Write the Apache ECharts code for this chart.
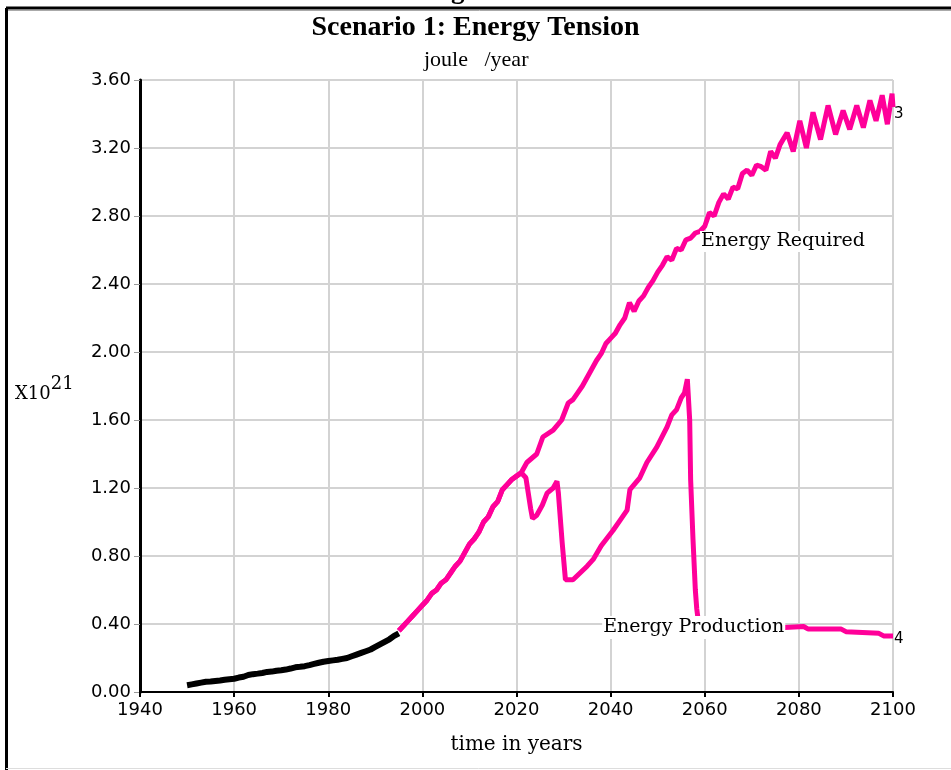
<!DOCTYPE html>
<html><head><meta charset="utf-8">
<script src="https://cdn.jsdelivr.net/npm/echarts@6/dist/echarts.min.js"></script>
<style>html,body{margin:0;padding:0;background:#fff}#c{width:951px;height:770px}</style>
</head><body><div id="c"></div>
<script>
// ---- data ----
const xTickValues = [1940, 1960, 1980, 2000, 2020, 2040, 2060, 2080, 2100];
const yTickValues = [0, 0.4, 0.8, 1.2, 1.6, 2.0, 2.4, 2.8, 3.2, 3.6];

const historyYears = [1950,1951,1952,1953,1954,1955,1956,1957,1958,1959,1960,1961,1962,1963,1964,1965,1966,1967,1968,1969,1970,1971,1972,1973,1974,1975,1976,1977,1978,1979,1980,1981,1982,1983,1984,1985,1986,1987,1988,1989,1990,1991,1992,1993,1994,1995];
const historyValues = [0.04,0.045,0.05,0.055,0.06,0.062,0.065,0.068,0.072,0.075,0.078,0.085,0.09,0.10,0.105,0.108,0.112,0.118,0.12,0.125,0.128,0.132,0.138,0.145,0.148,0.152,0.158,0.165,0.172,0.178,0.182,0.186,0.19,0.195,0.20,0.21,0.22,0.23,0.24,0.25,0.265,0.28,0.295,0.31,0.33,0.345];

const requiredYears = [1995,1996,1997,1998,1999,2000,2001,2002,2003,2004,2005,2006,2007,2008,2009,2010,2011,2012,2013,2014,2015,2016,2017,2018,2019,2020,2021,2022.2,2024.3,2025.6,2027.8,2029.6,2031,2032,2033,2034,2035,2036,2037,2038,2039,2040,2041,2042,2043,2044,2045,2046,2047,2048,2049,2050,2051,2052,2053,2054,2055,2056,2057,2058,2059,2060,2061,2062,2063,2064,2065,2066,2067,2068,2069,2070,2071,2072,2073,2074,2075,2076,2077.5,2078.8,2080.2,2081.6,2083,2084.6,2086.2,2087.8,2089.4,2090.8,2092.3,2093.7,2095.1,2096.4,2097.7,2098.8,2099.8,2100];
const requiredValues = [0.36,0.39,0.42,0.45,0.48,0.51,0.54,0.58,0.60,0.64,0.66,0.70,0.74,0.77,0.82,0.87,0.90,0.94,1.00,1.03,1.09,1.12,1.19,1.22,1.25,1.27,1.29,1.35,1.40,1.50,1.54,1.60,1.70,1.72,1.76,1.80,1.85,1.90,1.95,1.99,2.05,2.08,2.11,2.16,2.20,2.29,2.24,2.30,2.33,2.38,2.42,2.47,2.51,2.56,2.54,2.61,2.60,2.66,2.67,2.70,2.71,2.74,2.82,2.80,2.88,2.93,2.90,2.97,2.96,3.05,3.07,3.04,3.10,3.09,3.07,3.18,3.14,3.22,3.29,3.18,3.36,3.20,3.41,3.25,3.45,3.28,3.42,3.31,3.45,3.32,3.48,3.36,3.51,3.34,3.52,3.44];

const productionYears = [1995,1996,1997,1998,1999,2000,2001,2002,2003,2004,2005,2006,2007,2008,2009,2010,2011,2012,2013,2014,2015,2016,2017,2018,2019,2020,2021,2022,2023,2023.4,2024.3,2025.5,2026.5,2027.8,2028.6,2028.9,2029.7,2030.4,2032,2033.5,2035,2036.3,2038,2040.5,2042,2043.5,2044.1,2046.2,2047.7,2049.8,2052,2053,2054,2055,2055.7,2056.3,2056.8,2057,2057.5,2058,2058.3,2058.8,2070,2077,2081,2082,2089,2090,2097,2098,2100];
const productionValues = [0.36,0.39,0.42,0.45,0.48,0.51,0.54,0.58,0.60,0.64,0.66,0.70,0.74,0.77,0.82,0.87,0.90,0.94,1.00,1.03,1.09,1.12,1.19,1.22,1.25,1.27,1.29,1.26,1.08,1.02,1.04,1.10,1.17,1.20,1.24,1.17,0.88,0.66,0.66,0.70,0.74,0.78,0.86,0.95,1.01,1.07,1.19,1.26,1.35,1.44,1.56,1.63,1.66,1.73,1.76,1.84,1.60,1.25,0.90,0.60,0.49,0.38,0.38,0.38,0.385,0.37,0.37,0.355,0.345,0.33,0.33];

const titleText = 'Scenario 1: Energy Tension';
const unitText = 'joule   /year';
const xAxisName = 'time in years';
const requiredLabel = 'Energy Required';
const productionLabel = 'Energy Production';

// ---- build ----
const zip = (xs, ys) => xs.map((x, i) => [x, ys[i]]);
const PINK = '#ff0099';
const chart = echarts.init(document.getElementById('c'), null, {renderer: 'canvas'});
const serif = '"DejaVu Serif", serif';
const sans = '"DejaVu Sans", sans-serif';

chart.setOption({
  animation: false,
  backgroundColor: '#fff',
  grid: {left: 140, right: 58, top: 80, bottom: 78, containLabel: false},
  xAxis: {
    type: 'value', min: xTickValues[0], max: xTickValues[xTickValues.length - 1], interval: 20,
    name: xAxisName, nameLocation: 'middle', nameGap: 43,
    nameTextStyle: {fontFamily: serif, fontSize: 20, color: '#000'},
    axisLine: {show: true, onZero: false, lineStyle: {color: '#000', width: 2}},
    axisTick: {show: true, length: 5, lineStyle: {color: '#000', width: 2}},
    axisLabel: {margin: 9, fontFamily: sans, fontSize: 18, color: '#000', formatter: v => String(v)},
    splitLine: {show: true, lineStyle: {color: '#d3d3d3', width: 2}}
  },
  yAxis: {
    type: 'value', min: yTickValues[0], max: yTickValues[yTickValues.length - 1], interval: 0.4,
    axisLine: {show: true, onZero: false, lineStyle: {color: '#000', width: 3}},
    axisTick: {show: true, length: 6, lineStyle: {color: '#999', width: 1}},
    axisLabel: {margin: 9, fontFamily: sans, fontSize: 18, color: '#000', formatter: v => v.toFixed(2)},
    splitLine: {show: true, lineStyle: {color: '#d3d3d3', width: 2}}
  },
  series: [
    {name: 'Energy Required', type: 'line', data: zip(requiredYears, requiredValues), showSymbol: false,
      lineStyle: {color: PINK, width: 5}, z: 3},
    {name: 'Energy Production', type: 'line', data: zip(productionYears, productionValues), showSymbol: false,
      lineStyle: {color: PINK, width: 5}, z: 4},
    {name: 'History', type: 'line', data: zip(historyYears, historyValues), showSymbol: false,
      lineStyle: {color: '#000', width: 6}, z: 5}
  ]
});

const px = (x, y) => chart.convertToPixel({gridIndex: 0}, [x, y]);
const reqEnd = px(requiredYears[requiredYears.length - 1], requiredValues[requiredValues.length - 1]);
const prodEnd = px(productionYears[productionYears.length - 1], productionValues[productionValues.length - 1]);
const reqLab = px(2059.0, 2.65);
const prodLab = px(2038.2, 0.38);

chart.setOption({
  graphic: [
    {type: 'line', shape: {x1: 6, y1: 8, x2: 951, y2: 8}, style: {stroke: '#000', lineWidth: 3}, z: 100},
    {type: 'line', shape: {x1: 8, y1: 10.5, x2: 951, y2: 10.5}, style: {stroke: '#aaa', lineWidth: 1}, z: 100},
    {type: 'line', shape: {x1: 6.5, y1: 8, x2: 6.5, y2: 770}, style: {stroke: '#000', lineWidth: 3}, z: 100},
    {type: 'line', shape: {x1: 6, y1: 768.5, x2: 951, y2: 768.5}, style: {stroke: '#ddd', lineWidth: 1}, z: 100},
    {type: 'text', left: 451, top: -22, style: {text: 'g', font: 'bold 27px "Liberation Serif", serif', fill: '#000'}, z: 100},
    {type: 'text', left: 'center', top: 14, style: {text: titleText, font: 'bold 28px "Liberation Serif", serif', fill: '#000'}, z: 100},
    {type: 'text', left: 424, top: 49, style: {text: unitText, font: '22px "Liberation Serif", serif', fill: '#000'}, z: 100},
    {type: 'text', left: 15, top: 375, style: {text: 'X10{s|21}', font: '18px ' + serif, fill: '#000',
      rich: {s: {fontFamily: serif, fontSize: 18, verticalAlign: 'top', padding: [0, 0, 20, 0]}}}, z: 100},
    {type: 'text', x: reqLab[0], y: reqLab[1], style: {text: requiredLabel, font: '19px ' + serif, fill: '#000',
      verticalAlign: 'middle', backgroundColor: '#fff', padding: [1, 1, 1, 1]}, z: 100},
    {type: 'text', x: prodLab[0], y: prodLab[1], style: {text: productionLabel, font: '19px ' + serif, fill: '#000',
      verticalAlign: 'middle', backgroundColor: '#fff', padding: [2, 1, 2, 1]}, z: 100},
    {type: 'text', x: reqEnd[0] + 1, y: reqEnd[1] + 7, style: {text: '3', font: '15px ' + sans, fill: '#000', verticalAlign: 'middle'}, z: 100},
    {type: 'text', x: prodEnd[0] + 1, y: prodEnd[1] + 3, style: {text: '4', font: '15px ' + sans, fill: '#000', verticalAlign: 'middle'}, z: 100}
  ]
});
</script></body></html>
